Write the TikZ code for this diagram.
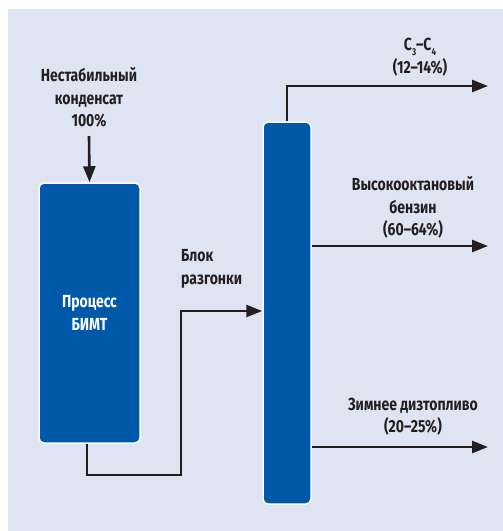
\documentclass[tikz,border=0pt]{standalone}
\usepackage{fontspec}
\setsansfont{Fira Sans}[FakeStretch=0.8]
\usepackage{tikz}
\usetikzlibrary{arrows.meta, positioning, calc}
\usepackage{xcolor}
\definecolor{panelBg}{HTML}{DFE4F2}
\definecolor{unitBlue}{HTML}{0058A8}
\definecolor{inkDark}{HTML}{231F20}
\tikzset{
    font=\sffamily\bfseries\fontsize{17.5}{22.5}\selectfont,
    >={Triangle[length=16pt, width=12pt]},
    x=1pt, y=-1pt,
    % Shapes
    unit/.style={rectangle, draw=white, line width=1.5pt, fill=unitBlue,
                 rounded corners=5pt, inner sep=0pt, text=white, align=center},
    % Flow & Labels
    flow/.style={->, line width=2.6pt, draw=inkDark},
    lbl/.style={text=inkDark, align=center, inner sep=0pt}
}
\begin{document}
\begin{tikzpicture}

\useasboundingbox (0,0) rectangle (503,531);
\fill[panelBg] (8,9) rectangle (503,531);

% units
\node[unit, minimum width=101pt, minimum height=260pt] (bimt) at (89.5,313) {Процесс\\БИМТ};
\node[unit, minimum width=48pt, minimum height=382pt] (column) at (287,313) {};

% stream ends
\coordinate (feedIn) at (89,136);
\coordinate (feedLow) at (181,475);
\coordinate (feedUp) at (181,311);
\coordinate (gasOut) at (488,86);
\coordinate (petrolOut) at (488,246);
\coordinate (dieselOut) at (488,447);

% labels
\node[lbl] (feedLbl) at (89,97.5) {Нестабильный\\конденсат\\100\%};
\node[lbl, anchor=west, align=left] (splitLbl) at (181,269) {Блок\\разгонки};
\node[lbl] (gasLbl) at (420,57) {C\raisebox{-0.5ex}{\fontsize{10}{10}\selectfont 3}–C\raisebox{-0.5ex}{\fontsize{10}{10}\selectfont 4}\\(12–14\%)};
\node[lbl] (petrolLbl) at (413,207.5) {Высокооктановый\\бензин\\(60–64\%)};
\node[lbl] (dieselLbl) at (413,416.5) {Зимнее дизтопливо\\(20–25\%)};

% flows
\draw[flow] (feedIn) -- (bimt.north);
\draw[flow] ([xshift=-2.5pt]bimt.south) |- (feedLow) -- (feedUp) -- (feedUp -| column.west);
\draw[flow] (column.north) |- (gasOut);
\draw[flow] (petrolOut -| column.east) -- (petrolOut);
\draw[flow] (dieselOut -| column.east) -- (dieselOut);

\end{tikzpicture}
\end{document}
